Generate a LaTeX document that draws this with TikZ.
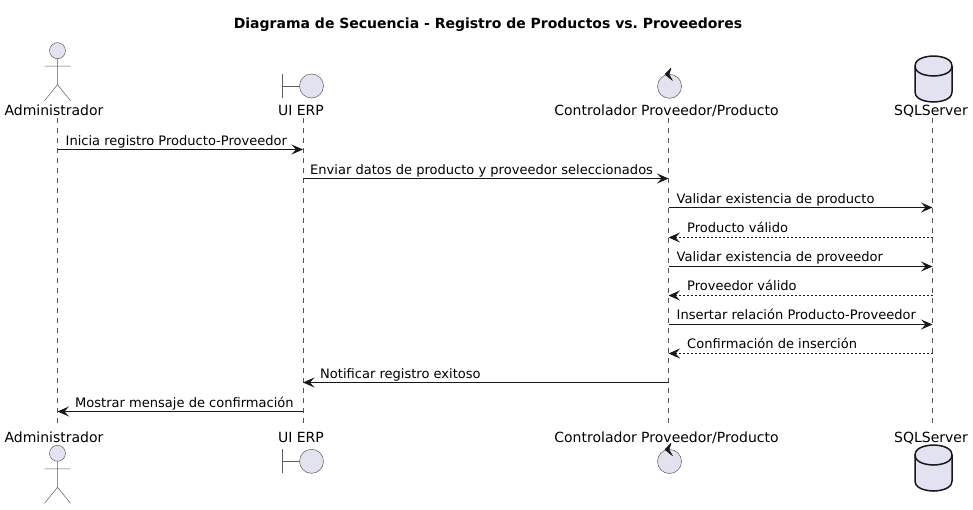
\documentclass[tikz,border=0pt]{standalone}
\usepackage{fontspec}
\setmainfont{DejaVu Sans}
\usetikzlibrary{arrows.meta}
\definecolor{pfill}{HTML}{E2E2F0}
\definecolor{pline}{HTML}{181818}
\tikzset{
  x=1pt,y=-1pt,
  life/.style={draw=pline!75,line width=0.5pt,dash pattern=on 5pt off 5pt},
  msg/.style={draw=pline,line width=1pt,-{Stealth[length=11.5pt,width=10pt,inset=4.5pt]}},
  ret/.style={msg,dash pattern=on 2pt off 2pt},
  mlabel/.style={inner sep=0pt,anchor=base west,font=\fontsize{13.04}{15}\selectfont\frenchspacing,text=black},
  plabel/.style={inner sep=0pt,anchor=base,font=\fontsize{14}{16}\selectfont,text=black},
  ptitle/.style={inner sep=0pt,anchor=base,font=\fontsize{14}{16}\selectfont\bfseries\frenchspacing,text=black},
  thin shape/.style={draw=pline!70,line width=0.5pt},
  body shape/.style={thin shape,fill=pfill},
  db shape/.style={draw=pline,line width=1.5pt,fill=pfill},
  actor/.pic={
    \draw[body shape] (0,0) circle[radius=8];
    \draw[thin shape] (0,8) -- (0,34) (-13,15.5) -- (13,15.5) (-13,50) -- (0,34) -- (13,50);
  },
  boundary/.pic={
    \draw[thin shape] (-29,-12) -- (-29,12) (-29,0) -- (-12,0);
    \draw[body shape] (0,0) circle[radius=12];
  },
  control/.pic={
    \draw[body shape] (0,0) circle[radius=12];
    \filldraw[pline,line width=0.5pt,line join=round] (-4.5,-12) -- (1.5,-18.3) -- (-0.5,-11.7) -- (3,-5.8) -- cycle;
  },
  database/.pic={
    \draw[db shape] (-18.5,10) .. controls (-18.5,0) and (0,0) .. (0,0) .. controls (0,0) and (18.5,0) .. (18.5,10)
      -- (18.5,36) .. controls (18.5,46) and (0,46) .. (0,46) .. controls (0,46) and (-18.5,46) .. (-18.5,36) -- cycle;
    \draw[draw=pline,line width=1.5pt] (-18.5,10) .. controls (-18.5,20) and (0,20) .. (0,20) .. controls (0,20) and (18.5,20) .. (18.5,10);
  },
}
\begin{document}
\begin{tikzpicture}
\useasboundingbox[fill=white] (0,0) rectangle (973,509);

\node[ptitle] (title) at (488,28) {Diagrama de Secuencia - Registro de Productos vs. Proveedores};

% lifeline ends
\coordinate (admT) at (57.5,118); \coordinate (admB) at (57.5,428);
\coordinate (uiT)  at (303,118);  \coordinate (uiB)  at (303,428);
\coordinate (ctlT) at (668.5,118);\coordinate (ctlB) at (668.5,428);
\coordinate (dbT)  at (932.5,118);\coordinate (dbB)  at (932.5,428);
\draw[life] (admT) -- (admB);
\draw[life] (uiT) -- (uiB);
\draw[life] (ctlT) -- (ctlB);
\draw[life] (dbT) -- (dbB);

% participants, top
\pic at (57.5,50.7) {actor};
\pic at (311.5,86) {boundary};
\pic at (669.5,86.3) {control};
\pic at (933.5,56) {database};
\node[plabel] (admTop) at (54,115) {Administrador};
\node[plabel] (uiTop) at (301,115) {UI ERP};
\node[plabel] (ctlTop) at (666.5,115) {Controlador Proveedor/Producto};
\node[plabel] (dbTop) at (931,115) {SQLServer};

% participants, bottom
\node[plabel] (admBot) at (54,442) {Administrador};
\node[plabel] (uiBot) at (301,442) {UI ERP};
\node[plabel] (ctlBot) at (666.5,442) {Controlador Proveedor/Producto};
\node[plabel] (dbBot) at (931,442) {SQLServer};
\pic at (57.5,453.3) {actor};
\pic at (311.5,461.3) {boundary};
\pic at (669.5,461.5) {control};
\pic at (933.5,445) {database};

% message rows
\coordinate (r1) at (0,149.5);
\coordinate (r2) at (0,178.5);
\coordinate (r3) at (0,207.5);
\coordinate (r4) at (0,237.5);
\coordinate (r5) at (0,266.5);
\coordinate (r6) at (0,295.5);
\coordinate (r7) at (0,324.5);
\coordinate (r8) at (0,353.5);
\coordinate (r9) at (0,382.5);
\coordinate (r10) at (0,411.5);

\draw[msg] (admT |- r1) -- (uiT |- r1);
\draw[msg] (uiT |- r2) -- (ctlT |- r2);
\draw[msg] (ctlT |- r3) -- (dbT |- r3);
\draw[ret] (dbT |- r4) -- (ctlT |- r4);
\draw[msg] (ctlT |- r5) -- (dbT |- r5);
\draw[ret] (dbT |- r6) -- (ctlT |- r6);
\draw[msg] (ctlT |- r7) -- (dbT |- r7);
\draw[ret] (dbT |- r8) -- (ctlT |- r8);
\draw[msg] (ctlT |- r9) -- (uiT |- r9);
\draw[msg] (uiT |- r10) -- (admT |- r10);

\node[mlabel] (t1) at (65.5,145) {Inicia registro Producto-Proveedor};
\node[mlabel] (t2) at (310,174) {Enviar datos de producto y proveedor seleccionados};
\node[mlabel] (t3) at (676.5,203) {Validar existencia de producto};
\node[mlabel] (t4) at (687,232.5) {Producto válido};
\node[mlabel] (t5) at (676.5,261.5) {Validar existencia de proveedor};
\node[mlabel] (t6) at (687,290.5) {Proveedor válido};
\node[mlabel] (t7) at (676.5,319.5) {Insertar relación Producto-Proveedor};
\node[mlabel] (t8) at (687,348.5) {Confirmación de inserción};
\node[mlabel] (t9) at (320,378) {Notificar registro exitoso};
\node[mlabel] (t10) at (75,407) {Mostrar mensaje de confirmación};
\end{tikzpicture}
\end{document}
